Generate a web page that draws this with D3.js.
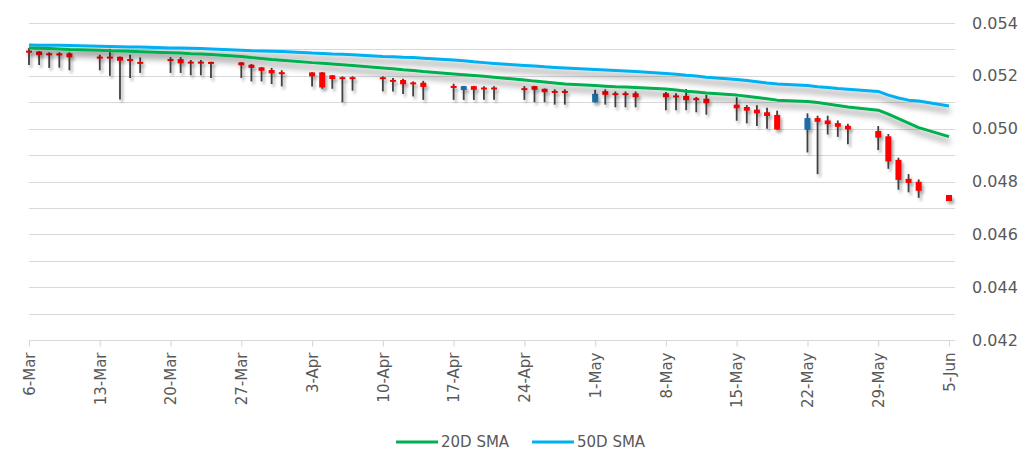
<!DOCTYPE html>
<html>
<head>
<meta charset="utf-8">
<script src="https://cdn.jsdelivr.net/npm/d3@7/dist/d3.min.js"></script>
<style>
  html, body { margin: 0; padding: 0; background: #ffffff; }
  svg { display: block; font-family: "DejaVu Sans", Verdana, sans-serif; }
</style>
</head>
<body>
<svg id="chart" width="1029" height="451"></svg>
<script>
const dates = [
  "2023-03-06","2023-03-07","2023-03-08","2023-03-09","2023-03-10",
  "2023-03-13","2023-03-14","2023-03-15","2023-03-16","2023-03-17",
  "2023-03-20","2023-03-21","2023-03-22","2023-03-23","2023-03-24",
  "2023-03-27","2023-03-28","2023-03-29","2023-03-30","2023-03-31",
  "2023-04-03","2023-04-04","2023-04-05","2023-04-06","2023-04-07",
  "2023-04-10","2023-04-11","2023-04-12","2023-04-13","2023-04-14",
  "2023-04-17","2023-04-18","2023-04-19","2023-04-20","2023-04-21",
  "2023-04-24","2023-04-25","2023-04-26","2023-04-27","2023-04-28",
  "2023-05-01","2023-05-02","2023-05-03","2023-05-04","2023-05-05",
  "2023-05-08","2023-05-09","2023-05-10","2023-05-11","2023-05-12",
  "2023-05-15","2023-05-16","2023-05-17","2023-05-18","2023-05-19",
  "2023-05-22","2023-05-23","2023-05-24","2023-05-25","2023-05-26",
  "2023-05-29","2023-05-30","2023-05-31","2023-06-01","2023-06-02",
  "2023-06-05"
];
const openVals = [
  0.05295,0.05292,0.05284,0.05284,0.05285,
  0.05272,0.05272,0.05272,0.05263,0.05252,
  0.05263,0.05263,0.05253,0.05253,0.05252,
  0.05251,0.05242,0.05232,0.05222,0.05213,
  0.05213,0.05213,0.05202,0.05194,0.05194,
  0.05194,0.05184,0.05184,0.05175,0.05174,
  0.05161,0.05146,0.05161,0.05155,0.05155,
  0.05153,0.05161,0.05151,0.05142,0.05142,
  0.05100,0.05142,0.05134,0.05134,0.05134,
  0.05134,0.05125,0.05124,0.05115,0.05113,
  0.05091,0.05082,0.05072,0.05062,0.05052,
  0.04996,0.05040,0.05031,0.05021,0.05011,
  0.04991,0.04971,0.04882,0.04810,0.04799,
  0.04749
];
const highVals = [
  0.05305,0.05293,0.05289,0.05289,0.05289,
  0.05280,0.05302,0.05273,0.05280,0.05270,
  0.05271,0.05271,0.05260,0.05260,0.05253,
  0.05252,0.05245,0.05233,0.05230,0.05221,
  0.05214,0.05214,0.05203,0.05198,0.05198,
  0.05198,0.05192,0.05189,0.05179,0.05181,
  0.05170,0.05162,0.05162,0.05161,0.05161,
  0.05161,0.05162,0.05152,0.05149,0.05149,
  0.05147,0.05149,0.05141,0.05141,0.05141,
  0.05139,0.05134,0.05150,0.05120,0.05128,
  0.05119,0.05089,0.05089,0.05079,0.05068,
  0.05058,0.05049,0.05049,0.05031,0.05019,
  0.05010,0.04980,0.04890,0.04828,0.04808,
  0.04749
];
const lowVals = [
  0.05241,0.05241,0.05230,0.05231,0.05221,
  0.05221,0.05200,0.05110,0.05192,0.05211,
  0.05211,0.05211,0.05202,0.05202,0.05192,
  0.05192,0.05179,0.05179,0.05169,0.05160,
  0.05160,0.05151,0.05151,0.05100,0.05144,
  0.05141,0.05141,0.05131,0.05122,0.05109,
  0.05109,0.05109,0.05109,0.05109,0.05109,
  0.05109,0.05100,0.05100,0.05091,0.05091,
  0.05099,0.05091,0.05081,0.05081,0.05081,
  0.05070,0.05070,0.05070,0.05062,0.05053,
  0.05030,0.05020,0.05010,0.05000,0.04996,
  0.04910,0.04828,0.04978,0.04969,0.04941,
  0.04919,0.04848,0.04769,0.04759,0.04738,
  0.04726
];
const closeVals = [
  0.05288,0.05278,0.05279,0.05278,0.05270,
  0.05266,0.05266,0.05257,0.05256,0.05246,
  0.05256,0.05247,0.05247,0.05247,0.05246,
  0.05240,0.05230,0.05219,0.05209,0.05207,
  0.05198,0.05156,0.05188,0.05188,0.05188,
  0.05188,0.05178,0.05168,0.05168,0.05158,
  0.05155,0.05161,0.05147,0.05149,0.05149,
  0.05146,0.05147,0.05138,0.05136,0.05136,
  0.05132,0.05128,0.05127,0.05127,0.05119,
  0.05119,0.05119,0.05108,0.05108,0.05096,
  0.05077,0.05068,0.05058,0.05048,0.04997,
  0.05040,0.05026,0.05017,0.05007,0.04997,
  0.04966,0.04876,0.04806,0.04795,0.04765,
  0.04726
];
const sma20 = [
  0.05305,0.05304,0.05303,0.05302,0.05300,
  0.05297,0.05295,0.05294,0.05293,0.05291,
  0.05287,0.05286,0.05284,0.05283,0.05281,
  0.05273,0.05269,0.05266,0.05262,0.05259,
  0.05250,0.05248,0.05245,0.05242,0.05239,
  0.05230,0.05227,0.05223,0.05220,0.05216,
  0.05207,0.05204,0.05201,0.05198,0.05195,
  0.05184,0.05180,0.05177,0.05173,0.05169,
  0.05163,0.05161,0.05159,0.05158,0.05156,
  0.05150,0.05146,0.05142,0.05139,0.05135,
  0.05127,0.05123,0.05118,0.05113,0.05108,
  0.05103,0.05099,0.05093,0.05088,0.05082,
  0.05070,0.05055,0.05038,0.05021,0.05004,
  0.04970
];
const sma50 = [
  0.05317,0.05316,0.05316,0.05316,0.05315,
  0.05312,0.05311,0.05310,0.05309,0.05309,
  0.05305,0.05305,0.05304,0.05303,0.05302,
  0.05297,0.05295,0.05294,0.05293,0.05292,
  0.05286,0.05285,0.05283,0.05282,0.05280,
  0.05273,0.05272,0.05270,0.05269,0.05267,
  0.05260,0.05257,0.05253,0.05250,0.05247,
  0.05239,0.05237,0.05234,0.05232,0.05230,
  0.05224,0.05222,0.05220,0.05218,0.05216,
  0.05209,0.05206,0.05202,0.05199,0.05195,
  0.05186,0.05182,0.05178,0.05173,0.05169,
  0.05163,0.05159,0.05156,0.05152,0.05149,
  0.05141,0.05127,0.05116,0.05108,0.05105,
  0.05086
];
const xTickDates = ["2023-03-06","2023-03-13","2023-03-20","2023-03-27","2023-04-03","2023-04-10","2023-04-17","2023-04-24","2023-05-01","2023-05-08","2023-05-15","2023-05-22","2023-05-29","2023-06-05"];
const xTickLabels = ["6-Mar","13-Mar","20-Mar","27-Mar","3-Apr","10-Apr","17-Apr","24-Apr","1-May","8-May","15-May","22-May","29-May","5-Jun"];
const yTicks = [0.042,0.044,0.046,0.048,0.050,0.052,0.054];
const yGrid = [0.042,0.043,0.044,0.045,0.046,0.047,0.048,0.049,0.050,0.051,0.052,0.053,0.054];
const seriesNames = ["20D SMA","50D SMA"];

const parse = d3.utcParse("%Y-%m-%d");
const data = dates.map((d, i) => ({
  date: parse(d), o: openVals[i], h: highVals[i], l: lowVals[i], c: closeVals[i],
  s20: sma20[i], s50: sma50[i]
}));

const svg = d3.select("#chart");
const x = d3.scaleUtc().domain([parse(dates[0]), parse(dates[dates.length - 1])]).range([29, 949]);
const y = d3.scaleLinear().domain([0.042, 0.054]).range([340, 23]);
const plotRight = 955;

const defs = svg.append("defs");
const f1 = defs.append("filter").attr("id", "lineShadow").attr("x", "-5%").attr("y", "-50%").attr("width", "110%").attr("height", "300%");
f1.append("feGaussianBlur").attr("in", "SourceAlpha").attr("stdDeviation", 3).attr("result", "b");
f1.append("feOffset").attr("in", "b").attr("dx", 1).attr("dy", 5).attr("result", "o");
f1.append("feComponentTransfer").attr("in", "o").attr("result", "s").append("feFuncA").attr("type", "linear").attr("slope", 0.5);
const m1 = f1.append("feMerge");
m1.append("feMergeNode").attr("in", "s");
m1.append("feMergeNode").attr("in", "SourceGraphic");

const f2 = defs.append("filter").attr("id", "candleShadow").attr("x", "-100%").attr("y", "-50%").attr("width", "300%").attr("height", "200%");
f2.append("feGaussianBlur").attr("in", "SourceAlpha").attr("stdDeviation", 1.8).attr("result", "b");
f2.append("feOffset").attr("in", "b").attr("dx", 2).attr("dy", 3).attr("result", "o");
f2.append("feComponentTransfer").attr("in", "o").attr("result", "s").append("feFuncA").attr("type", "linear").attr("slope", 0.35);
const m2 = f2.append("feMerge");
m2.append("feMergeNode").attr("in", "s");
m2.append("feMergeNode").attr("in", "SourceGraphic");

// gridlines
svg.append("g").selectAll("line").data(yGrid).join("line")
  .attr("x1", 29).attr("x2", plotRight)
  .attr("y1", d => Math.round(y(d)) + 0.5).attr("y2", d => Math.round(y(d)) + 0.5)
  .attr("stroke", "#d9d9d9").attr("stroke-width", 1.2);

// x axis
const xAxis = d3.axisBottom(x)
  .tickValues(xTickDates.map(parse))
  .tickFormat((d, i) => xTickLabels[i])
  .tickSize(6).tickSizeOuter(0);
const gx = svg.append("g").attr("transform", "translate(0,340.5)").call(xAxis);
gx.select(".domain").remove();
gx.selectAll(".tick line").attr("stroke", "#d9d9d9").attr("stroke-width", 1.2);
gx.selectAll(".tick text")
  .attr("font-family", "DejaVu Sans, Verdana, sans-serif")
  .attr("font-size", 15).attr("fill", "#595959")
  .attr("text-anchor", "end")
  .attr("transform", "translate(0,12) rotate(-90)")
  .attr("x", 0).attr("y", 0).attr("dy", "0.35em");

// y labels
svg.append("g").selectAll("text").data(yTicks).join("text")
  .attr("x", 972).attr("y", d => y(d)).attr("dy", "0.35em")
  .attr("font-size", 16).attr("fill", "#595959")
  .text(d => d3.format(".3f")(d));

// candles
const bw = 6;
const cg = svg.append("g").attr("filter", "url(#candleShadow)");
const candle = cg.selectAll("g").data(data).join("g");
candle.append("line")
  .attr("x1", d => x(d.date)).attr("x2", d => x(d.date))
  .attr("y1", d => y(d.h)).attr("y2", d => y(d.l))
  .attr("stroke", "#404040").attr("stroke-width", 1.8);
candle.append("rect")
  .attr("x", d => x(d.date) - bw / 2)
  .attr("y", d => Math.min(y(d.o), y(d.c)) - (Math.abs(y(d.o) - y(d.c)) < 2 ? (2 - Math.abs(y(d.o) - y(d.c))) / 2 : 0))
  .attr("width", bw)
  .attr("height", d => Math.max(2, Math.abs(y(d.o) - y(d.c))))
  .attr("fill", d => d.c > d.o ? "#1b6ca8" : "#ff0000");

// SMA lines
const line20 = d3.line().x(d => x(d.date)).y(d => y(d.s20));
const line50 = d3.line().x(d => x(d.date)).y(d => y(d.s50));
const lg = svg.append("g").attr("filter", "url(#lineShadow)");
lg.append("path").datum(data).attr("d", line50).attr("fill", "none").attr("stroke", "#00b0f0").attr("stroke-width", 3).attr("stroke-linejoin", "round");
lg.append("path").datum(data).attr("d", line20).attr("fill", "none").attr("stroke", "#00b050").attr("stroke-width", 3).attr("stroke-linejoin", "round");

// legend
const legend = [
  { name: seriesNames[0], color: "#00b050", x: 396 },
  { name: seriesNames[1], color: "#00b0f0", x: 532 }
];
const lgd = svg.append("g");
legend.forEach(it => {
  lgd.append("line").attr("x1", it.x).attr("x2", it.x + 42).attr("y1", 442).attr("y2", 442)
    .attr("stroke", it.color).attr("stroke-width", 3);
  lgd.append("text").attr("x", it.x + 45).attr("y", 442).attr("dy", "0.35em")
    .attr("font-size", 15).attr("fill", "#595959").text(it.name);
});
</script>
</body>
</html>
